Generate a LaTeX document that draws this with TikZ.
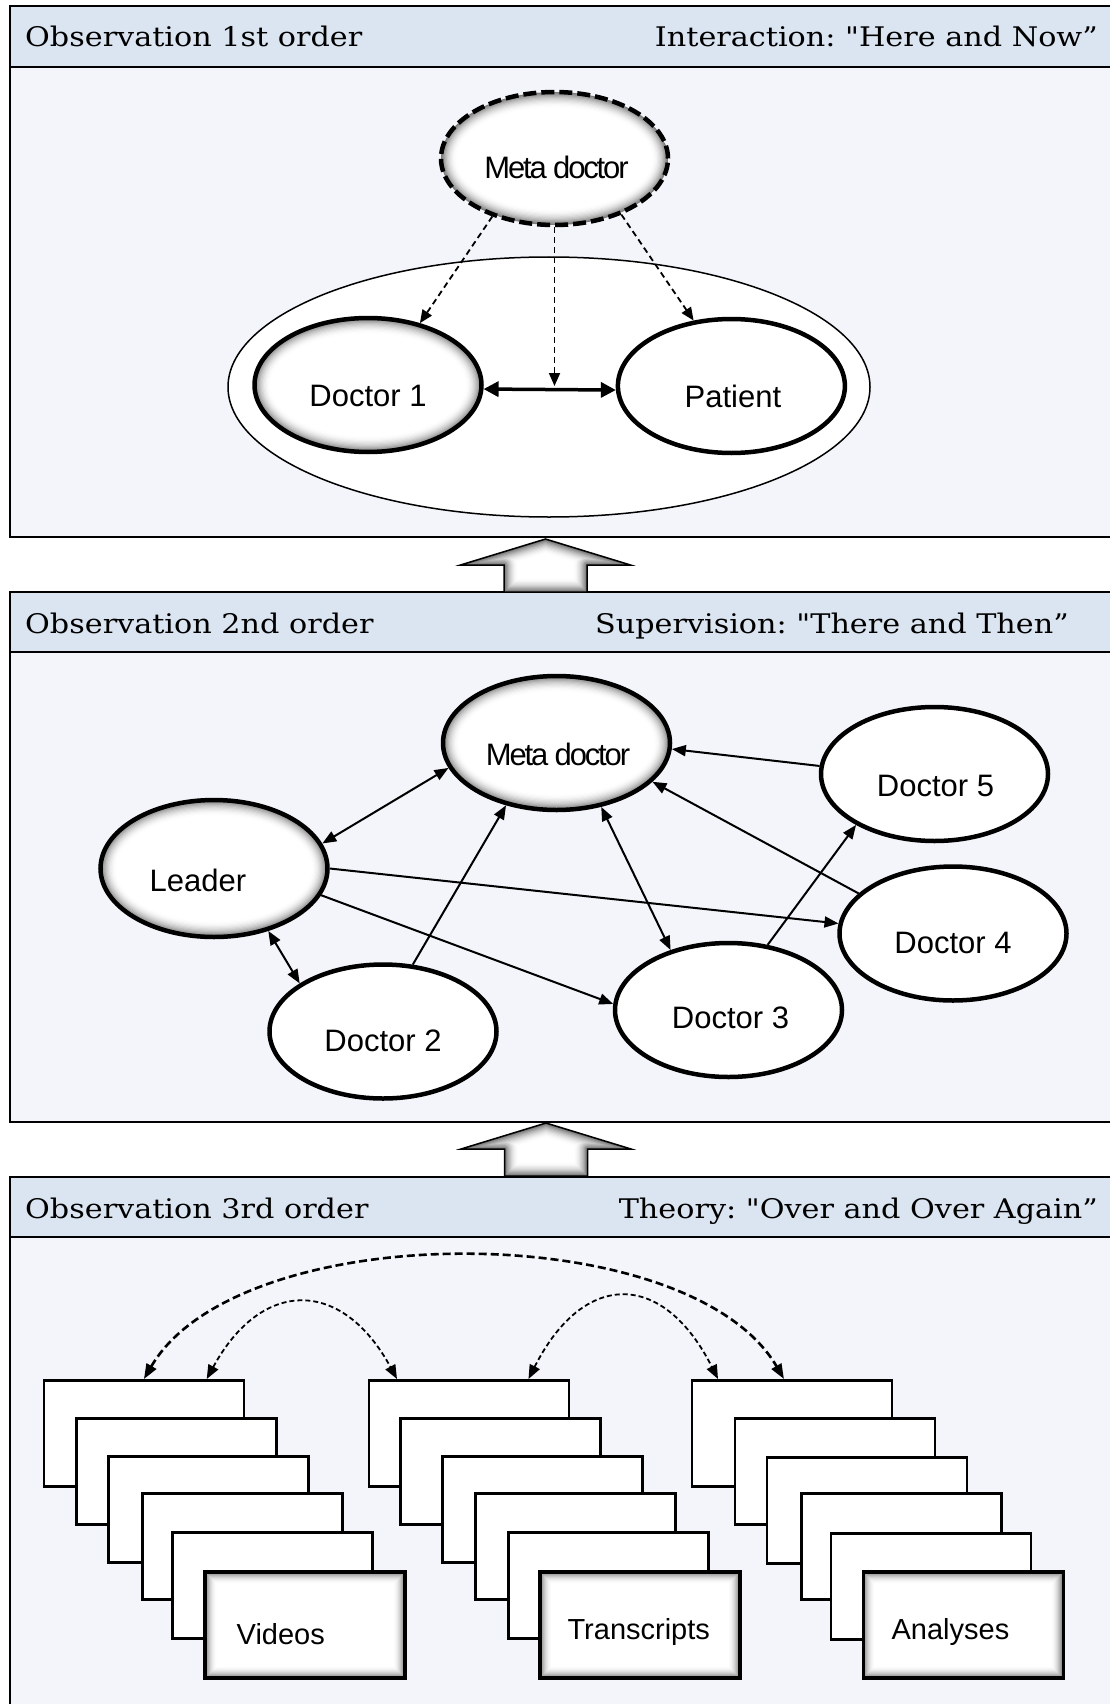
\documentclass[tikz,border=0pt]{standalone}
\usepackage{fontspec}
\usetikzlibrary{arrows.meta,shapes.geometric,calc}
\newfontfamily\headfont[FakeStretch=1.12]{DejaVu Serif}
\newfontfamily\labelfont{Liberation Sans}
\newfontfamily\tightlabelfont[LetterSpace=-7]{Liberation Sans}
\definecolor{headfill}{RGB}{219,229,241}
\definecolor{bodyfill}{RGB}{243,245,250}
\frenchspacing

\begin{document}
\begin{tikzpicture}[x=1pt,y=-1pt,
  frame/.style={line width=2pt},
  headtext/.style={font=\headfont\fontsize{27}{32}\selectfont, inner sep=0pt},
  lbl/.style={font=\labelfont\fontsize{31}{36}\selectfont, inner sep=0pt, anchor=base},
  metalbl/.style={font=\tightlabelfont\fontsize{31}{36}\selectfont, inner sep=0pt, anchor=base},
  boxlbl/.style={font=\labelfont\fontsize{29}{34}\selectfont, inner sep=0pt, anchor=base},
  % grey rim fading inwards to white, for an ellipse of radii #1, #2
  ellglow/.style n args={2}{path picture={
      \foreach \k in {0,1,...,13}{
        \pgfmathsetmacro\shadeval{52*(1-\k/13)^2}
        \fill[black!\shadeval] (path picture bounding box.center)
          ellipse [x radius={#1-1.2*\k}, y radius={#2-1.2*\k}];
      }}},
  person/.style={ellipse, draw, line width=4.5pt, minimum width=227pt, minimum height=134pt, inner sep=0pt, fill=white},
  glowperson/.style={person, ellglow={113.5}{67}},
  one/.style={line width=2pt, -{Triangle[length=14pt,width=11pt]}},
  both/.style={line width=2pt, {Triangle[length=14pt,width=11pt]}-{Triangle[length=14pt,width=11pt]}},
  hint/.style={line width=1.8pt, dash pattern=on 6pt off 4pt, -{Triangle[length=13pt,width=11pt]}},
  bigarc/.style={line width=2.6pt, dash pattern=on 8pt off 4pt, {Triangle[length=15pt,width=11pt]}-{Triangle[length=15pt,width=11pt]}},
  smallarc/.style={line width=1.8pt, dash pattern=on 5pt off 3pt, {Triangle[length=14pt,width=11pt]}-{Triangle[length=14pt,width=11pt]}},
  sheet/.style={rectangle, draw, line width=2.5pt, fill=white, minimum width=200pt, minimum height=106pt, inner sep=0pt, anchor=north west},
  topsheet/.style={sheet, line width=3.5pt, path picture={
      \foreach \i in {0,1,...,12}{
        \pgfmathsetmacro\shadeval{50*(1-\i/12)^2}
        \fill[black!\shadeval] ([shift={(\i pt,-\i pt)}]path picture bounding box.north west)
          rectangle ([shift={(-\i pt,\i pt)}]path picture bounding box.south east);
      }}},
  % hollow up-arrow between two levels; the origin is its tip
  levelarrow/.pic={
    \begin{scope}
      \clip (-41.5,53) -- (-41.5,26) -- (-85,26) -- (0,0) -- (85,26) -- (41.5,26) -- (41.5,53) -- cycle;
      \fill[white] (-90,-5) rectangle (90,60);
      \foreach \k in {0,1,...,11}{
        \pgfmathsetmacro\shadeval{55*(\k/11)^2}
        \pgfmathsetmacro\bandw{30-2.5*\k}
        \draw[line width=\bandw pt, black!\shadeval, line join=round]
          (-41.5,53) -- (-41.5,26) -- (-85,26) -- (0,0) -- (85,26) -- (41.5,26) -- (41.5,53) -- cycle;
      }
    \end{scope}
    \draw[line width=1.5pt, line join=miter]
      (-41.5,53) -- (-41.5,26) -- (-85,26) -- (0,0) -- (85,26) -- (41.5,26) -- (41.5,53) -- cycle;
  }
]
\useasboundingbox (0,0) rectangle (1110,1704);

% ---------- panels ----------
\fill[bodyfill] (10,6.5) rectangle (1116,537);
\fill[headfill] (10,6.5) rectangle (1116,67);
\draw[frame] (10,6.5) rectangle (1116,537);
\draw[frame] (10,67) -- (1116,67);

\fill[bodyfill] (10,592) rectangle (1116,1122);
\fill[headfill] (10,592) rectangle (1116,652);
\draw[frame] (10,592) rectangle (1116,1122);
\draw[frame] (10,652) -- (1116,652);

\fill[bodyfill] (10,1177) rectangle (1116,1712);
\fill[headfill] (10,1177) rectangle (1116,1237);
\draw[frame] (10,1177) rectangle (1116,1712);
\draw[frame] (10,1237) -- (1116,1237);

\node[headtext, anchor=base west] (h1l) at (25,47) {Observation 1st order};
\node[headtext, anchor=base east] (h1r) at (1098,47) {Interaction: "Here and Now”};
\node[headtext, anchor=base west] (h2l) at (25,633) {Observation 2nd order};
\node[headtext, anchor=base east] (h2r) at (1069,633) {Supervision: "There and Then”};
\node[headtext, anchor=base west] (h3l) at (25,1218) {Observation 3rd order};
\node[headtext, anchor=base east] (h3r) at (1098,1218) {Theory: "Over and Over Again”};

% ---------- arrows between the levels ----------
\pic at (545.5,539) {levelarrow};
\pic at (546,1123) {levelarrow};

% ---------- level 1: interaction ----------
\node[ellipse, draw, line width=1.5pt, fill=white, minimum width=642pt, minimum height=260pt, inner sep=0pt] (room) at (549,387) {};
\node[person, ellglow={113.5}{66.5}, dash pattern=on 13pt off 5pt, line width=4.5pt, minimum height=133pt] (meta1) at (554.5,158.5) {};
\node[metalbl] (meta1t) at ($(meta1.center)+(2,20.5)$) {Meta doctor};
\node[glowperson] (doc1) at (368,385) {};
\node[lbl] (doc1t) at ($(doc1.center)+(0,21.5)$) {Doctor 1};
\node[person] (pat) at (731.4,386) {};
\node[lbl] (patt) at ($(pat.center)+(1.5,21.5)$) {Patient};

\coordinate (mid) at (554.5,386);
\draw[line width=3.5pt, {Triangle[length=15pt,width=15pt]}-{Triangle[length=15pt,width=15pt]}] (doc1.-2) -- (pat.182);
\draw[hint] (meta1.223) -- (doc1.50);
\draw[hint] (meta1.south) -- (mid);
\draw[hint] (meta1.-40) -- (pat.120);

% ---------- level 2: supervision ----------
\node[glowperson] (meta2) at (556.5,743) {};
\node[metalbl] (meta2t) at ($(meta2.center)+(1.5,22)$) {Meta doctor};
\node[person, ellglow={113.5}{68.5}, minimum height=137pt] (lead) at (214,868.5) {};
\node[lbl] (leadt) at ($(lead.center)+(-16,22.5)$) {Leader};
\node[person] (doc2) at (383,1031.5) {};
\node[lbl] (doc2t) at ($(doc2.center)+(0,20)$) {Doctor 2};
\node[person] (doc3) at (728.5,1010) {};
\node[lbl] (doc3t) at ($(doc3.center)+(2,18)$) {Doctor 3};
\node[person] (doc4) at (953,933.5) {};
\node[lbl] (doc4t) at ($(doc4.center)+(0,19.5)$) {Doctor 4};
\node[person] (doc5) at (934.5,774) {};
\node[lbl] (doc5t) at ($(doc5.center)+(1,22)$) {Doctor 5};

\draw[both] (lead.13) -- (meta2.193.6);
\draw[both] (lead.-49) -- (doc2.150);
\draw[one] (doc2.66) -- (meta2.231);
\draw[one] (lead.-0.5) -- (doc4.175);
\draw[one] (lead.-14) -- (doc3.177.5);
\draw[both] (meta2.-55.7) -- (doc3.134.4);
\draw[one] (doc3.59.4) -- (doc5.213);
\draw[one] (doc5.176) -- (meta2.-3.8);
\draw[one] (doc4.157) -- (meta2.-22.3);

% ---------- level 3: theory ----------
\node[sheet] (v1) at (42.7,1379) {};
\node[sheet] (v2) at (75,1417) {};
\node[sheet] (v3) at (107,1455) {};
\node[sheet] (v4) at (141,1492) {};
\node[sheet] (v5) at (171,1531) {};
\node[topsheet] (v6) at (203,1570) {};
\node[boxlbl] (v6t) at ($(v6.center)+(-24,20)$) {Videos};

\node[sheet] (t1) at (367.5,1379) {};
\node[sheet] (t2) at (399,1417) {};
\node[sheet] (t3) at (441,1455) {};
\node[sheet] (t4) at (474,1492) {};
\node[sheet] (t5) at (507,1531) {};
\node[topsheet] (t6) at (538,1570) {};
\node[boxlbl] (t6t) at ($(t6.center)+(-1,15)$) {Transcripts};

\node[sheet] (a1) at (690.7,1379) {};
\node[sheet] (a2) at (733.7,1417) {};
\node[sheet] (a3) at (765.7,1456) {};
\node[sheet] (a4) at (800,1492) {};
\node[sheet] (a5) at (829.7,1532) {};
\node[topsheet] (a6) at (861.7,1570) {};
\node[boxlbl] (a6t) at ($(a6.center)+(-13,15)$) {Analyses};

\draw[bigarc] (v1.north) .. controls +(95,-163) and +(-95,-163) .. ($(a1.north)+(-8,0)$);
\draw[smallarc] ($(v1.north west)+(164,0)$) .. controls +(55,-101) and +(-55,-101) .. ($(t1.north west)+(29.5,0)$);
\draw[smallarc] ($(t1.north west)+(161,0)$) .. controls +(55,-109) and +(-55,-109) .. ($(a1.north west)+(27.3,0)$);
\end{tikzpicture}
\end{document}
